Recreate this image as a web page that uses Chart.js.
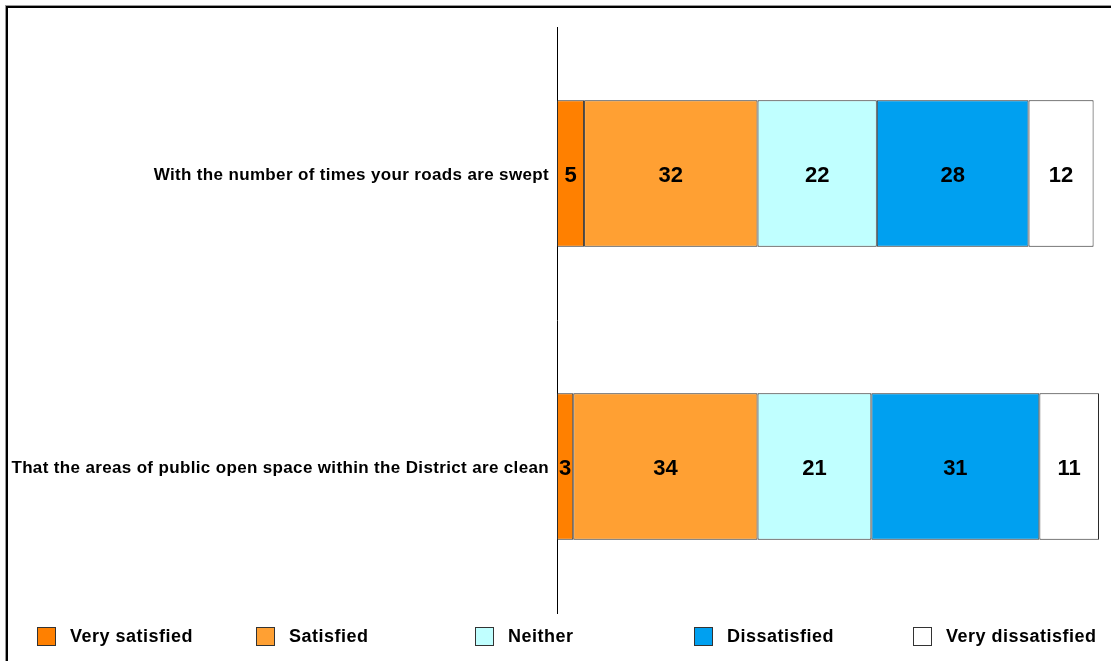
<!DOCTYPE html>
<html>
<head>
<meta charset="utf-8">
<title>Street cleanliness satisfaction</title>
<script src="https://cdn.jsdelivr.net/npm/chart.js@4.4.1/dist/chart.umd.min.js"></script>
<style>
  html, body { margin: 0; padding: 0; background: #fff; }
  #wrap { position: relative; width: 1111px; height: 661px; overflow: hidden; }
  #frame { position: absolute; left: 6px; top: 6px; width: 1200px; height: 800px; border: 2px solid #000; box-shadow: -1px -1px 0 #999; }
  canvas { position: absolute; left: 0; top: 0; }
</style>
</head>
<body>
<div id="wrap">
  <div id="frame"></div>
  <canvas id="satChart" width="1111" height="661"></canvas>
</div>
<script>
// Survey questions (one bar each)
const questions = [
    'With the number of times your roads are swept',
    'That the areas of public open space within the District are clean'
];

// Response categories and their fill colours
const responses = ['Very satisfied', 'Satisfied', 'Neither', 'Dissatisfied', 'Very dissatisfied'];
const colours = ['#FF8000', '#FFA033', '#C0FFFF', '#00A0F0', '#FFFFFF'];

// Percentages per response, in question order
const verySatisfied = [5, 3];
const satisfied = [32, 34];
const neither = [22, 21];
const dissatisfied = [28, 31];
const veryDissatisfied = [12, 11];

const seriesValues = [verySatisfied, satisfied, neither, dissatisfied, veryDissatisfied];

const FONT = '"Liberation Sans", Arial, sans-serif';

// Slightly wider tracking for the axis labels
const trackText = {
    id: 'trackText',
    beforeDraw(chart) {
        chart.ctx.letterSpacing = '0.35px';
    }
};

// Write the percentage in the middle of each segment
const segmentLabels = {
    id: 'segmentLabels',
    afterDatasetsDraw(chart) {
        const ctx = chart.ctx;
        ctx.save();
        ctx.letterSpacing = '0px';
        ctx.font = 'bold 22px ' + FONT;
        ctx.fillStyle = '#000';
        ctx.textAlign = 'center';
        ctx.textBaseline = 'middle';
        chart.data.datasets.forEach((ds, i) => {
            chart.getDatasetMeta(i).data.forEach((bar, j) => {
                const c = bar.getCenterPoint();
                ctx.fillText(String(ds.data[j]), c.x, c.y + 2.5);
            });
        });
        ctx.restore();
    }
};

// Legend laid out in evenly spaced columns along the bottom
const spreadLegend = {
    id: 'spreadLegend',
    afterDraw(chart) {
        const ctx = chart.ctx;
        const step = 219, x0 = 37, y0 = 627;
        ctx.save();
        ctx.letterSpacing = '0.5px';
        ctx.font = 'bold 18px ' + FONT;
        ctx.textBaseline = 'middle';
        chart.data.datasets.forEach((ds, i) => {
            const x = x0 + i * step;
            ctx.fillStyle = ds.backgroundColor;
            ctx.fillRect(x + 0.5, y0 + 0.5, 18, 18);
            ctx.strokeStyle = '#333';
            ctx.lineWidth = 1;
            ctx.strokeRect(x + 0.5, y0 + 0.5, 18, 18);
            ctx.fillStyle = '#000';
            ctx.fillText(ds.label, x + 33, y0 + 10);
        });
        ctx.restore();
    }
};

const ctx = document.getElementById('satChart').getContext('2d');
new Chart(ctx, {
    type: 'bar',
    data: {
        labels: questions,
        datasets: responses.map((name, i) => ({
            label: name,
            data: seriesValues[i],
            backgroundColor: colours[i],
            borderColor: '#2a2a2a',
            borderWidth: 1,
            borderSkipped: false,
            barPercentage: 0.5,
            categoryPercentage: 1
        }))
    },
    options: {
        indexAxis: 'y',
        responsive: false,
        animation: false,
        layout: { padding: { top: 27, right: 12, bottom: 48, left: 0 } },
        plugins: {
            legend: { display: false },
            tooltip: { enabled: false }
        },
        scales: {
            x: {
                stacked: true,
                min: 0,
                max: 100,
                display: false
            },
            y: {
                stacked: true,
                afterFit(scale) { scale.width = 557; },
                grid: { display: false, drawTicks: false },
                border: { display: true, color: '#000', width: 1 },
                ticks: {
                    padding: 8,
                    labelOffset: 2,
                    color: '#000',
                    font: { family: FONT, size: 17, weight: 'bold' }
                }
            }
        }
    },
    plugins: [trackText, segmentLabels, spreadLegend]
});
</script>
</body>
</html>
